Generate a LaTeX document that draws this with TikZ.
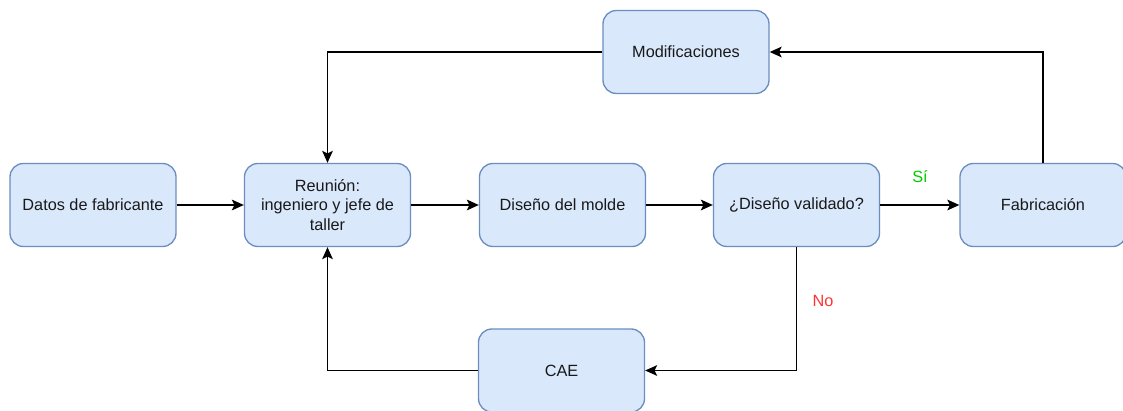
\documentclass[tikz,border=0pt]{standalone}
\usepackage{fontspec}
\setmainfont{Liberation Sans}
\usetikzlibrary{arrows.meta}
\definecolor{boxfill}{HTML}{DAE8FC}
\definecolor{boxdraw}{HTML}{6C8EBF}
\definecolor{sigreen}{HTML}{00CC00}
\definecolor{nored}{HTML}{FF3333}
\tikzset{
  proc/.style={draw=boxdraw, fill=boxfill, line width=1pt, rounded corners=10pt,
    minimum width=124.5pt, minimum height=62.25pt, align=center, inner sep=2pt,
    font=\fontsize{12.2pt}{14.5pt}\selectfont, text=black!90},
  conn/.style={draw=black, line width=1.3pt, -{Stealth[length=9pt,width=8pt,inset=2pt]}},
  lbl/.style={font=\fontsize{12.2pt}{14.5pt}\selectfont}
}
\begin{document}
\begin{tikzpicture}[x=0.75pt, y=-0.75pt]
\useasboundingbox (0,0) rectangle (1123,410);
\node[proc] (datos) at (93,205) {Datos de fabricante};
\node[proc] (reunion) at (327.5,205) {Reunión:\\ingeniero y jefe de\\taller};
\node[proc] (molde) at (562.5,205) {Diseño del molde};
\node[proc] (valid) at (796.5,205) {¿Diseño validado?};
\node[proc] (fab) at (1043,205) {Fabricación};
\node[proc] (mod) at (686,52) {Modificaciones};
\node[proc] (cae) at (561.5,370.5) {CAE};
\draw[conn] (datos) -- (reunion);
\draw[conn] (reunion) -- (molde);
\draw[conn] (molde) -- (valid);
\draw[conn] (valid) -- (fab);
\draw[conn] (fab.north) |- (mod.east);
\draw[conn] (mod.west) -| (reunion.north);
\draw[conn] (valid.south) |- (cae.east);
\draw[conn] (cae.west) -| (reunion.south);
\node[lbl, text=sigreen] (si) at (920,177) {Sí};
\node[lbl, text=nored] (no) at (823,301) {No};
\end{tikzpicture}
\end{document}
